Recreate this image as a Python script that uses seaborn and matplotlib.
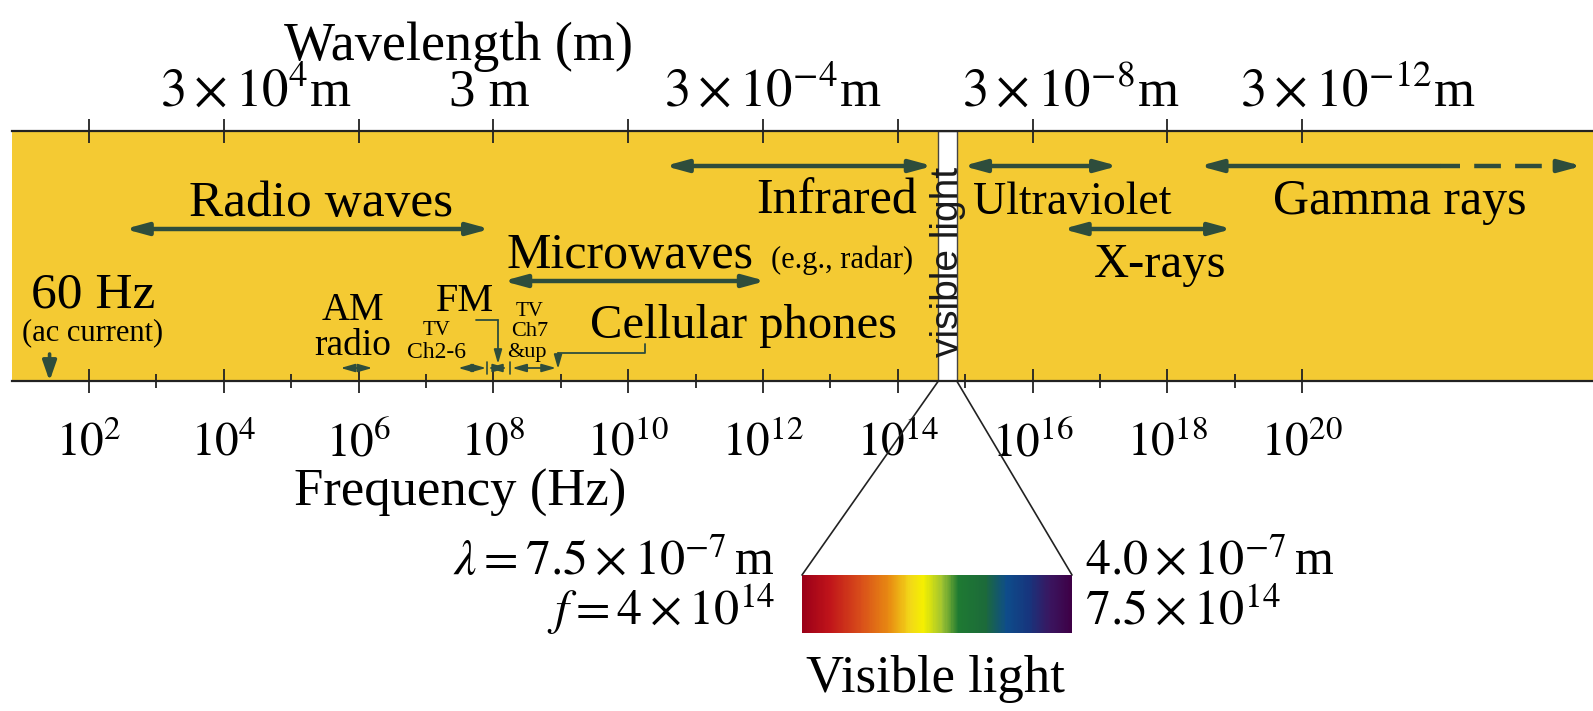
import numpy as np
import pandas as pd
import seaborn as sns
import matplotlib
matplotlib.use('Agg')
from matplotlib import pyplot as plt
from matplotlib.patches import ConnectionPatch
from matplotlib.colors import LinearSegmentedColormap
from matplotlib.ticker import FixedLocator, FuncFormatter, NullFormatter

# frequency axis (powers of ten, Hz)
major_exp = [2, 4, 6, 8, 10, 12, 14, 16, 18, 20]
minor_exp = [3, 5, 7, 9, 11, 13, 15, 17, 19]

# wavelength labels on the top edge, at these frequency exponents
wave_exp = [4, 8, 12, 16, 20]
wave_labels = [r'$3\times10^{4}$m', '3 m', r'$3\times10^{-4}$m',
               r'$3\times10^{-8}$m', r'$3\times10^{-12}$m']

# main bands (Hz), as drawn in the figure
band_names = ['Radio waves', 'Microwaves', 'Infrared', 'Ultraviolet', 'X-rays', 'Gamma rays']
band_low = [3.4e2, 1.4e8, 3.5e10, 9.3e14, 2.8e16, 3.0e18]
band_high = [8.9e7, 1.1e12, 3.3e14, 1.85e17, 9.1e18, 1.1e22]
gamma_open_end = 1.4e24   # dashed continuation

# small bands near the bottom edge (Hz)
small_names = ['AM radio', 'TV Ch2-6', 'FM', 'TV Ch7 &up']
small_low = [5.4e5, 3.0e7, 8.3e7, 1.9e8]
small_high = [1.6e6, 7.8e7, 1.6e8, 8.5e8]

ac_freq = 26          # where the "60 Hz" arrow sits in the drawing
fm_mark = 1.17e8
cell_low, cell_high = 9.1e8, 1.8e10
visible_low, visible_high = 4.0e14, 7.5e14

rainbow_pos = [0.0, 0.10, 0.22, 0.32, 0.40, 0.45, 0.52, 0.58, 0.68, 0.76, 0.84, 0.92, 1.0]
rainbow_col = ['#9b0018', '#c0141a', '#d9501a', '#e88a12', '#f2d818', '#f5f000', '#9dc232',
               '#1e7a32', '#1c6a3a', '#0e4c8a', '#16367e', '#3a1660', '#3e0046']

bands = pd.DataFrame({'band': band_names, 'low': band_low, 'high': band_high})

GOLD = '#f4ca33'
GREEN = '#2e4d3c'
W, H = 1593, 711

sns.set_theme(style='white')
plt.rcParams['font.family'] = ['Liberation Serif', 'DejaVu Sans']
plt.rcParams['mathtext.fontset'] = 'stix'

fig = plt.figure(figsize=(W / 100, H / 100), dpi=100)


def ftext(x, y, s, **kw):
    # place text using pixel position in the figure (top-left origin)
    kw.setdefault('ha', 'center')
    kw.setdefault('va', 'baseline')
    fig.text(x / W, 1 - y / H, s, color='black', **kw)


# main band: x in Hz (log), y in pixel rows so layout is easy
ax = fig.add_axes([12 / W, 1 - 381 / H, 1 - 12 / W, 250 / H])
ax.set_facecolor(GOLD)
ax.set_xscale('log')
ax.set_xlim(10 ** (2 + (12 - 89) / 67.4), 10 ** (2 + (1593 - 89) / 67.4))
ax.set_ylim(381, 131)
for side in ['left', 'right']:
    ax.spines[side].set_visible(False)
for side in ['top', 'bottom']:
    ax.spines[side].set_visible(True)
    ax.spines[side].set_color('#222222')
    ax.spines[side].set_linewidth(1.6)
ax.set_yticks([])
ax.xaxis.set_major_locator(FixedLocator([10.0 ** e for e in major_exp]))
ax.xaxis.set_minor_locator(FixedLocator([10.0 ** e for e in minor_exp]))
ax.xaxis.set_major_formatter(FuncFormatter(lambda v, p: r'$10^{%d}$' % round(np.log10(v))))
ax.xaxis.set_minor_formatter(NullFormatter())
ax.tick_params(axis='x', which='major', direction='inout', length=17, width=1.3,
               top=True, bottom=True, color='#222222', labelcolor='black',
               labelsize=34, pad=21)
ax.tick_params(axis='x', which='minor', direction='inout', length=10, width=1.3,
               top=False, bottom=True, color='#222222')

# visible light strip
ax.axvspan(visible_low, visible_high, facecolor='white', edgecolor='#444444', lw=1.0)
ax.text(np.sqrt(visible_low * visible_high), 262, 'visible light', rotation=90,
        ha='center', va='center', fontsize=28, family='Liberation Sans', color='#1a1a1a')


def span_arrow(lo, hi, y, style='<|-|>', lw=3.2, hl=1.1, hw=0.3):
    ax.annotate('', xy=(hi, y), xytext=(lo, y), annotation_clip=False,
                arrowprops=dict(arrowstyle=f'{style},head_length={hl},head_width={hw}',
                                color=GREEN, lw=lw, shrinkA=0, shrinkB=0))


rows = {'Radio waves': 229, 'Microwaves': 281, 'Infrared': 166,
        'Ultraviolet': 166, 'X-rays': 229, 'Gamma rays': 166}
for _, r in bands.iterrows():
    if r['band'] == 'Gamma rays':
        span_arrow(r['low'], r['high'], rows[r['band']], style='<|-')
    else:
        span_arrow(r['low'], r['high'], rows[r['band']])

# gamma rays continue (dashed) off to the right
g_hi = bands.loc[bands['band'] == 'Gamma rays', 'high'].iloc[0]
sns.lineplot(x=[g_hi, gamma_open_end / 1.7], y=[166, 166], ax=ax, color=GREEN, lw=3.2,
             linestyle=(1.5, (6, 3.2)))
span_arrow(gamma_open_end / 1.7, gamma_open_end, 166, style='-|>')

# small bands
for lo, hi in zip(small_low, small_high):
    span_arrow(lo, hi, 368, lw=1.3, hl=0.7, hw=0.2)
for sep in [(small_high[1] * small_low[2]) ** 0.5, (small_high[2] * small_low[3]) ** 0.5]:
    ax.plot([sep, sep], [362, 374], color=GREEN, lw=1.2)

# 60 Hz pointer
ax.annotate('', xy=(ac_freq, 381), xytext=(ac_freq, 354), annotation_clip=False,
            arrowprops=dict(arrowstyle='-|>,head_length=1.0,head_width=0.35',
                            color=GREEN, lw=2.6, shrinkA=0, shrinkB=0))

# FM bracket
ax.plot([5.6e7, fm_mark], [320, 320], color=GREEN, lw=1.3)
ax.annotate('', xy=(fm_mark, 364), xytext=(fm_mark, 320),
            arrowprops=dict(arrowstyle='-|>,head_length=0.7,head_width=0.2',
                            color=GREEN, lw=1.3, shrinkA=0, shrinkB=0))
# cellular bracket
ax.plot([cell_high, cell_high, cell_low], [344, 353, 353], color=GREEN, lw=1.3)
ax.annotate('', xy=(cell_low, 369), xytext=(cell_low, 353),
            arrowprops=dict(arrowstyle='-|>,head_length=0.7,head_width=0.2',
                            color=GREEN, lw=1.3, shrinkA=0, shrinkB=0))

# band labels
ftext(321, 216, 'Radio waves', fontsize=37)
ftext(917, 213, 'Infrared', fontsize=36, ha='right')
ftext(507, 268, 'Microwaves', fontsize=36, ha='left')
ftext(771, 268, '(e.g., radar)', fontsize=22, ha='left')
ftext(973, 214, 'Ultraviolet', fontsize=33, ha='left')
ftext(1273, 214, 'Gamma rays', fontsize=36, ha='left')
ftext(1094, 277, 'X-rays', fontsize=35, ha='left')
ftext(93, 307, '60 Hz', fontsize=37)
ftext(93, 340, '(ac current)', fontsize=22)
ftext(353, 320, 'AM', fontsize=28)
ftext(353, 355, 'radio', fontsize=27)
ftext(465, 311, 'FM', fontsize=29)
ftext(437, 335, 'TV', fontsize=15)
ftext(437, 358, 'Ch2-6', fontsize=17)
ftext(530, 316, 'TV', fontsize=15)
ftext(530, 336, 'Ch7', fontsize=16)
ftext(527, 357, '&up', fontsize=16)
ftext(590, 338, 'Cellular phones', fontsize=35, ha='left')

# axis titles and wavelength labels
ftext(459, 60, 'Wavelength (m)', fontsize=39)
for e, lab, dx in zip(wave_exp, wave_labels, [32, -4, 10, 38, 56]):
    x = 89 + 67.4 * (e - 2) + dx
    ftext(x, 106, lab, fontsize=38)
ftext(460, 506, 'Frequency (Hz)', fontsize=38)

# visible light close-up
ax_vis = fig.add_axes([802 / W, 1 - 633 / H, 270 / W, 58 / H])
rainbow = LinearSegmentedColormap.from_list('vis', list(zip(rainbow_pos, rainbow_col)))
sns.heatmap(np.linspace(0, 1, 300)[None, :], cmap=rainbow, cbar=False,
            xticklabels=False, yticklabels=False, ax=ax_vis)
for corner_f, corner_x in [(visible_low, 0), (visible_high, 1)]:
    fig.add_artist(ConnectionPatch(xyA=(corner_f, 381), coordsA=ax.transData,
                                   xyB=(corner_x, 1), coordsB=ax_vis.transAxes,
                                   color='#222222', lw=1.2))

ftext(775, 575, r'$\lambda = 7.5\times10^{-7}\,$m', fontsize=36, ha='right')
ftext(775, 625, r'$f = 4\times10^{14}$', fontsize=36, ha='right')
ftext(1085, 575, r'$4.0\times10^{-7}\,$m', fontsize=36, ha='left')
ftext(1085, 625, r'$7.5\times10^{14}$', fontsize=36, ha='left')
ftext(935, 692, 'Visible light', fontsize=38)

fig.savefig('out.png', dpi=100, facecolor='white')
